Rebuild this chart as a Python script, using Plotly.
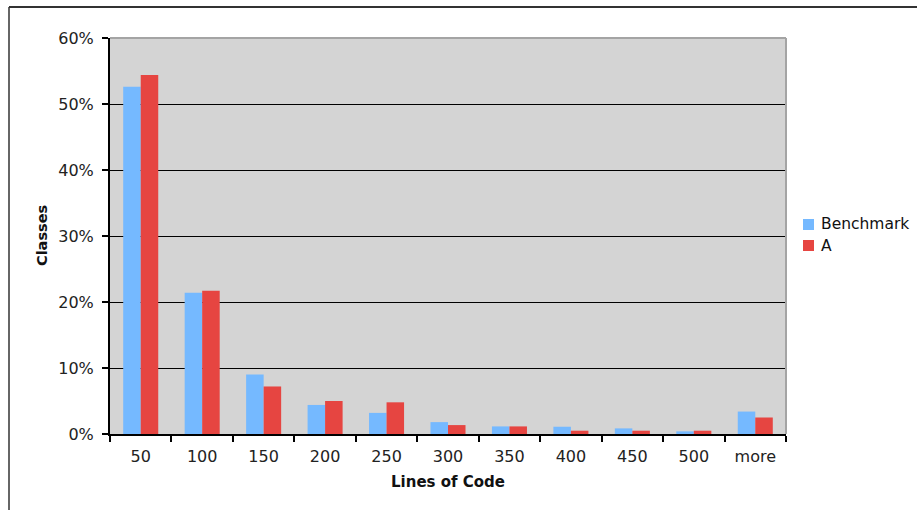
import plotly.graph_objects as go

# Share of classes per lines-of-code bucket
categories = ["50", "100", "150", "200", "250", "300", "350", "400", "450", "500", "more"]
benchmark = [0.526, 0.214, 0.090, 0.044, 0.032, 0.018, 0.0115, 0.011, 0.0085, 0.004, 0.034]
series_a = [0.544, 0.217, 0.072, 0.050, 0.048, 0.0135, 0.0115, 0.005, 0.005, 0.005, 0.025]
y_ticks = [0, 0.1, 0.2, 0.3, 0.4, 0.5, 0.6]
series_names = ["Benchmark", "A"]

BLUE = "#75B9FF"
RED = "#E64541"
FONT = "DejaVu Sans"

# plot area geometry (pixels)
L, R, T, B = 110, 131, 38, 76
W, H = 917, 510
PW, PH = W - L - R, H - T - B


def px(x):
    return (x - L) / PW


def py(y):
    return (H - B - y) / PH


fig = go.Figure()
fig.add_trace(go.Bar(x=categories, y=benchmark, name=series_names[0],
                     marker=dict(color=BLUE, line=dict(width=0))))
fig.add_trace(go.Bar(x=categories, y=series_a, name=series_names[1],
                     marker=dict(color=RED, line=dict(width=0))))

shapes = [
    # gray frame along the top and right of the plot area
    dict(type="line", xref="paper", yref="paper", x0=0, x1=1, y0=1, y1=1,
         line=dict(color="#A4A4A4", width=2), layer="above"),
    dict(type="line", xref="paper", yref="paper", x0=1, x1=1, y0=0, y1=1,
         line=dict(color="#A4A4A4", width=2), layer="above"),
    # outer frame lines
    dict(type="line", xref="paper", yref="paper", x0=px(9), x1=px(920), y0=py(7), y1=py(7),
         line=dict(color="#333333", width=2)),
    dict(type="line", xref="paper", yref="paper", x0=px(9), x1=px(9), y0=py(7), y1=py(512),
         line=dict(color="#333333", width=1.5)),
]

annotations = [
    dict(text="<b>Lines of Code</b>", xref="paper", yref="paper", x=px(448), y=py(482),
         xanchor="center", yanchor="middle", showarrow=False,
         font=dict(family=FONT, size=15, color="#111111")),
    dict(text="<b>Classes</b>", xref="paper", yref="paper", x=px(42), y=py(236),
         xanchor="center", yanchor="middle", showarrow=False, textangle=-90,
         font=dict(family=FONT, size=14.5, color="#111111")),
]

# legend keys and labels
for name, color, yc in zip(series_names, [BLUE, RED], [224.5, 245.5]):
    shapes.append(dict(type="rect", xref="paper", yref="paper",
                       x0=px(803), x1=px(814), y0=py(yc + 5.5), y1=py(yc - 5.5),
                       fillcolor=color, line=dict(width=0)))
    annotations.append(dict(text=name, xref="paper", yref="paper", x=px(819), y=py(yc),
                            xanchor="left", yanchor="middle", showarrow=False,
                            font=dict(family=FONT, size=15.5, color="#111111")))

fig.update_layout(
    width=W, height=H,
    margin=dict(l=L, r=R, t=T, b=B, autoexpand=False),
    paper_bgcolor="white",
    plot_bgcolor="#D4D4D4",
    barmode="group",
    bargap=0.43,
    bargroupgap=0,
    font=dict(family=FONT, size=16, color="#222222"),
    showlegend=False,
    xaxis=dict(
        type="category",
        showline=True, linecolor="black", linewidth=2,
        ticks="outside", tickson="boundaries", ticklen=6, tickcolor="black", tickwidth=2,
        ticklabelstandoff=7,
        showgrid=False,
        tickfont=dict(family=FONT, size=16, color="#222222"),
    ),
    yaxis=dict(
        range=[0, 0.6],
        tickvals=y_ticks,
        tickformat=".0%",
        showline=True, linecolor="black", linewidth=2,
        ticks="outside", ticklen=6, tickcolor="black", tickwidth=2,
        ticklabelstandoff=5,
        showgrid=True, gridcolor="black", gridwidth=1.2,
        zeroline=False,
        tickfont=dict(family=FONT, size=16, color="#222222"),
    ),
    shapes=shapes,
    annotations=annotations,
)

fig.write_html("out.html")
